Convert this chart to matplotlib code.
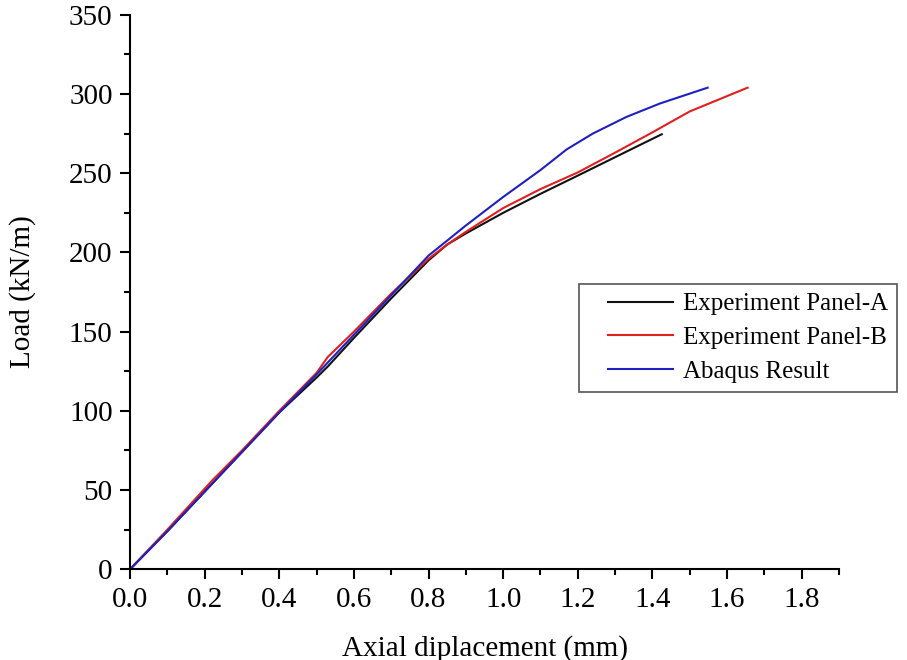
import matplotlib
matplotlib.use("Agg")
import matplotlib.pyplot as plt
from matplotlib.ticker import MultipleLocator, FormatStrFormatter
from matplotlib.legend_handler import HandlerLine2D

plt.rcParams['font.family'] = ['Liberation Serif', 'DejaVu Serif']

# Experiment Panel-A
a_x = [0.0, 0.1, 0.2, 0.3, 0.4, 0.5, 0.53, 0.6, 0.7, 0.8, 0.85, 0.9, 1.0, 1.1, 1.2, 1.33, 1.425]
a_y = [0, 24, 49, 74, 99, 121, 128, 146, 171, 195, 205, 212, 225, 237, 248.5, 263.6, 274.6]

# Experiment Panel-B
b_x = [0.0, 0.1, 0.22, 0.3, 0.4, 0.5, 0.53, 0.6, 0.7, 0.8, 0.85, 0.9, 1.0, 1.1, 1.2, 1.3, 1.4, 1.5, 1.655]
b_y = [0, 25, 56, 75, 100, 124, 134, 150, 174, 196, 205, 213, 228, 240, 250.5, 263, 275.8, 289, 304]

# Abaqus Result
c_x = [0.0, 0.1, 0.2, 0.3, 0.4, 0.5, 0.6, 0.7, 0.8, 0.9, 1.0, 1.1, 1.17, 1.24, 1.33, 1.42, 1.548]
c_y = [0, 24, 49, 74, 99, 123, 148, 173, 198, 217, 235, 252, 265, 275, 285.5, 294, 304]

labels = ['Experiment Panel-A', 'Experiment Panel-B', 'Abaqus Result']
colors = ['#111111', '#e02020', '#2020c0']

fig = plt.figure(figsize=(9.07, 6.60), dpi=100)
ax = fig.add_axes([130/907, 1-569.3/660, (839-130)/907, (569.3-14.8)/660])

ax.plot(a_x, a_y, color=colors[0], lw=1.5, label=labels[0])
ax.plot(b_x, b_y, color=colors[1], lw=1.5, label=labels[1])
ax.plot(c_x, c_y, color=colors[2], lw=1.5, label=labels[2])

ax.set_xlim(0, 1.9)
ax.set_ylim(0, 350)
ax.xaxis.set_major_locator(MultipleLocator(0.2))
ax.xaxis.set_minor_locator(MultipleLocator(0.1))
ax.yaxis.set_major_locator(MultipleLocator(50))
ax.yaxis.set_minor_locator(MultipleLocator(25))
ax.xaxis.set_major_formatter(FormatStrFormatter('%.1f'))

for s in ['top', 'right']:
    ax.spines[s].set_visible(False)
for s in ['left', 'bottom']:
    ax.spines[s].set_linewidth(1.5)

ax.tick_params(which='major', direction='out', length=7.5, width=1.5, labelsize=21)
ax.tick_params(axis='x', which='major', pad=5)
ax.tick_params(axis='y', which='major', pad=5)
ax.tick_params(which='minor', direction='out', length=4, width=1.5)

ax.set_xlabel('Axial diplacement (mm)', fontsize=21, labelpad=16)
ax.set_ylabel('Load (kN/m)', fontsize=21, labelpad=24)

fs = 18
hm = {ln: HandlerLine2D(xpad=0.8) for ln in ax.get_lines()}
leg = ax.legend(loc='upper left', bbox_to_anchor=(579/907, 1-284/660),
                bbox_transform=fig.transFigure, borderaxespad=0,
                fontsize=fs, handlelength=3.4, handletextpad=0.4,
                labelspacing=0.45, borderpad=0.35, fancybox=False, framealpha=1,
                handler_map=hm)
leg.get_frame().set_edgecolor('#555555')
leg.get_frame().set_linewidth(1.2)

fig.savefig('out.png', dpi=100)
